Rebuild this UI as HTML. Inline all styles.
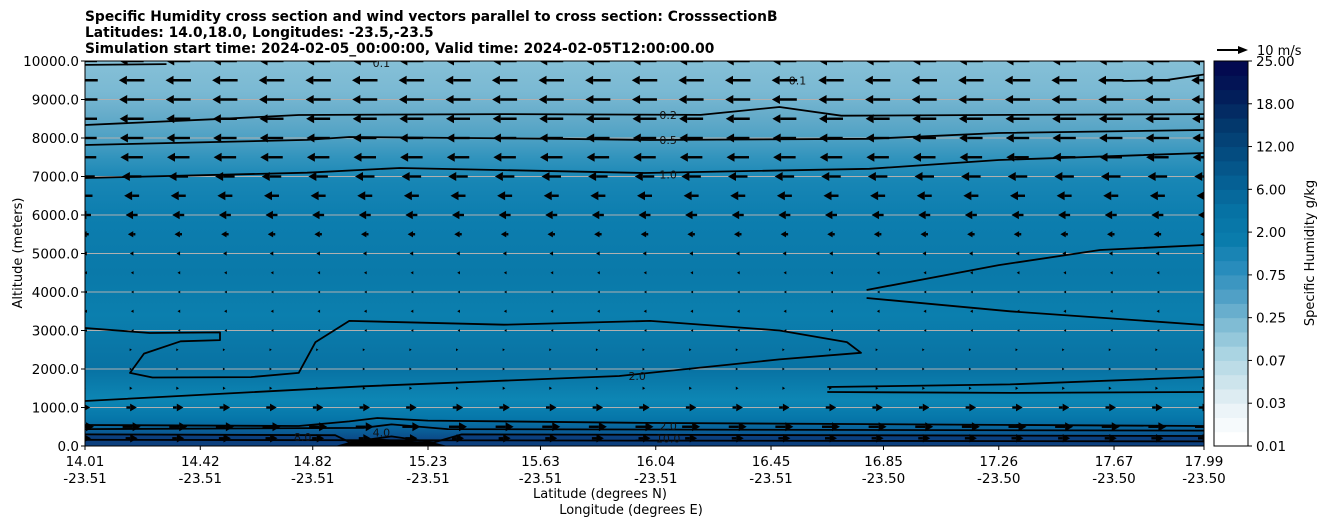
<!DOCTYPE html>
<html><head><meta charset="utf-8"><style>
body{margin:0;background:#fff;}
svg text{font-family:"DejaVu Sans","Liberation Sans",sans-serif;}
</style></head><body>
<svg id="chart" width="1326" height="526" viewBox="0 0 1326 526" xmlns="http://www.w3.org/2000/svg">
<defs>
<linearGradient id="bg" x1="0" y1="61" x2="0" y2="446" gradientUnits="userSpaceOnUse">
<stop offset="0" stop-color="#86c0d7"/>
<stop offset="0.08" stop-color="#7ab9d3"/>
<stop offset="0.14" stop-color="#66acca"/>
<stop offset="0.2" stop-color="#4ea1c4"/>
<stop offset="0.25" stop-color="#3294bd"/>
<stop offset="0.31" stop-color="#1886b5"/>
<stop offset="0.4" stop-color="#0d7eaf"/>
<stop offset="0.55" stop-color="#0a79a9"/>
<stop offset="0.66" stop-color="#0b7fae"/>
<stop offset="0.74" stop-color="#0a77a7"/>
<stop offset="0.8" stop-color="#0872a3"/>
<stop offset="0.88" stop-color="#0d86b4"/>
<stop offset="0.93" stop-color="#0676a9"/>
<stop offset="0.96" stop-color="#0a5e97"/>
<stop offset="0.98" stop-color="#0b4c8a"/>
<stop offset="1" stop-color="#08306b"/>
</linearGradient>
<clipPath id="plotclip"><rect x="85" y="61" width="1119" height="385"/></clipPath>
</defs>
<g font-weight="bold" font-size="13.8" fill="#000">
<text x="85" y="21">Specific Humidity cross section and wind vectors parallel to cross section: CrosssectionB</text>
<text x="85" y="37">Latitudes: 14.0,18.0, Longitudes: -23.5,-23.5</text>
<text x="85" y="53">Simulation start time: 2024-02-05_00:00:00, Valid time: 2024-02-05T12:00:00.00</text>
</g>
<rect x="85" y="61" width="1119" height="385" fill="url(#bg)"/>
<g id="grid"></g>
<g id="contours" clip-path="url(#plotclip)"></g>
<g id="arrows" clip-path="url(#plotclip)"></g>
<rect x="85" y="61" width="1119" height="385" fill="none" stroke="#000" stroke-width="1"/>
<g id="yaxis"></g>
<g id="xaxis"></g>
<text x="22" y="253" font-size="13" text-anchor="middle" transform="rotate(-90 22 253)">Altitude (meters)</text>
<text x="600" y="498" font-size="13" text-anchor="middle">Latitude (degrees N)</text>
<text x="631" y="514" font-size="13" text-anchor="middle">Longitude (degrees E)</text>
<g>
<line x1="1217" y1="50" x2="1240" y2="50" stroke="#000" stroke-width="2"/>
<polygon points="1248,50 1238,46 1238,54" fill="#000"/>
<text x="1257" y="55" font-size="13">10 m/s</text>
</g>
<g id="colorbar"></g>
<text x="1314" y="253" font-size="13" text-anchor="middle" transform="rotate(-90 1314 253)">Specific Humidity g/kg</text>
</svg>
<script>
const NS='http://www.w3.org/2000/svg';
const yTicks=[0,1000,2000,3000,4000,5000,6000,7000,8000,9000,10000];
const latTicks=[14.01,14.42,14.82,15.23,15.63,16.04,16.45,16.85,17.26,17.67,17.99];
const lonTicks=['-23.51','-23.51','-23.51','-23.51','-23.51','-23.51','-23.51','-23.50','-23.50','-23.50','-23.50'];
const arrowAlts=[10000,9500,9000,8500,8000,7500,7000,6500,6000,5500,5000,4500,4000,3500,3000,2500,2000,1500,1000,500,200];
const arrowU=[-8,-8.5,-8.3,-8,-7.8,-7.5,-6.5,-5,-4,-2.5,-1.2,-0.5,-0.3,-0.5,-0.3,0.2,0.2,0.5,3.5,6,4];
const cbTicks=['0.01','0.03','0.07','0.25','0.75','2.00','6.00','12.00','18.00','25.00'];
const contour02=[[14.01,8338],[14.5,8500],[14.77,8597],[15.5,8620],[16.2,8600],[16.48,8805],[16.7,8580],[17.3,8600],[17.99,8620]];
const contour05=[[14.01,7818],[14.8,7950],[14.95,8026],[15.7,7980],[16.02,7948],[16.8,7980],[17.26,8130],[17.99,8208]];
const contour10=[[14.01,6961],[14.8,7100],[15.13,7221],[16.0,7091],[16.8,7200],[17.26,7429],[17.99,7610]];
const contour01=[[14.01,9900],[14.3,9920]];
const contour02b=[[17.7,9480],[17.85,9500],[17.99,9650]];
const contour20=[[14.01,3065],[14.24,2935],[14.49,2950],[14.49,2750],[14.35,2720],[14.22,2400],[14.17,1900],[14.25,1780],[14.6,1790],[14.77,1900],[14.83,2700],[14.95,3250],[15.5,3150],[16.02,3250],[16.48,3000],[16.72,2700],[16.77,2420],[16.48,2250],[15.91,1818],[15.0,1550],[14.01,1169]];
const contour10a=[[16.79,4052],[17.26,4700],[17.62,5091],[17.99,5221]];
const contour10b=[[16.79,3844],[17.3,3500],[17.99,3143]];
const contour10c=[[16.65,1532],[17.3,1600],[17.99,1792]];
const contour10d=[[16.65,1403],[17.3,1380],[17.99,1403]];
const contourLow1=[[14.01,545],[14.77,520],[14.95,640],[15.05,727],[15.23,660],[16.0,600],[17.99,520]];
const contourLow2=[[14.01,440],[15.0,470],[15.1,560],[15.3,440],[17.99,400]];
const contourLow3=[[14.01,300],[14.9,280],[14.95,100],[15.1,250],[15.25,90],[15.35,300],[17.99,260]];
const contourLow4=[[14.01,160],[17.99,120]];
const labels=[[16.02,8597,'0.2'],[16.02,7948,'0.5'],[16.02,7050,'1.0'],[15.91,1818,'2.0'],[16.02,520,'2.0'],[14.72,230,'8.0'],[15.0,350,'4.0'],[16.02,200,'10.0'],[16.48,9500,'0.1'],[15.0,9950,'0.1']];

const X=v=>85+(v-14.01)/(17.99-14.01)*1119;
const Y=a=>446-a/10000*385;
function mk(t,attrs,parent){const e=document.createElementNS(NS,t);for(const k in attrs)e.setAttribute(k,attrs[k]);parent.appendChild(e);return e;}
const grid=document.getElementById('grid'),ya=document.getElementById('yaxis'),xa=document.getElementById('xaxis');
yTicks.forEach(t=>{
  const y=Y(t);
  const g=mk('line',{x1:85,x2:1204,y1:y,y2:y,stroke:'#b0b0b0','stroke-width':1},grid);
  
  
  mk('line',{x1:81,x2:85,y1:y,y2:y,stroke:'#000'},ya);
  const tx=mk('text',{x:79,y:y+5,'font-size':13.5,'text-anchor':'end'},ya);
  tx.textContent=t.toFixed(1);
  
  
});
latTicks.forEach((t,i)=>{
  const x=X(t);
  mk('line',{x1:x,x2:x,y1:446,y2:450,stroke:'#000'},xa);
  const tx=mk('text',{x:x,y:466,'font-size':13.5,'text-anchor':'middle'},xa);
  tx.textContent=t.toFixed(2);
  
  
  const t2=mk('text',{x:x,y:483,'font-size':13.5,'text-anchor':'middle'},xa);
  t2.textContent=lonTicks[i];
  
  
});
const cg=document.getElementById('contours');
const fillPts=contourLow3.map(p=>X(p[0])+','+Y(p[1])).join(' ')+' 1204,446 85,446';
const f=mk('polygon',{points:fillPts,fill:'#0b3f7e'},cg);


const f2pts=[[14.95,100],[15.05,190],[15.25,90],[15.3,0],[14.9,0]].map(p=>X(p[0])+','+Y(p[1])).join(' ');
const f2=mk('polygon',{points:f2pts,fill:'#000'},cg);


function path(pts){return pts.map((p,i)=>(i?'L':'M')+X(p[0]).toFixed(1)+' '+Y(p[1]).toFixed(1)).join(' ');}
[contour01,contour02,contour02b,contour05,contour10,contour20,contour10a,contour10b,contour10c,contour10d,contourLow1,contourLow2,contourLow3,contourLow4].forEach(c=>{
  const p=mk('path',{d:path(c),fill:'none',stroke:'#000','stroke-width':1.8,'stroke-linejoin':'round'},cg);
  
  
});
labels.forEach(l=>{
  const x=X(l[0]),y=Y(l[1]);
  const t=mk('text',{x:x+18,y:y+4,'font-size':11,'text-anchor':'middle',fill:'#111'},cg);
  t.textContent=l[2];
  
  
});
const ag=document.getElementById('arrows');
arrowAlts.forEach((a,r)=>{
  const u=arrowU[r];const y=Y(a);
  for(let k=0;k<25;k++){
    const cx=85+k*1119/24;
    const len=u*3;const half=len/2;
    const x0=cx-half,x1=cx+half;const dir=Math.sign(len)||1;
    const hl=Math.min(8,Math.abs(len)*0.45+2),hw=Math.min(4.5,Math.abs(len)*0.25+1.2);
    const g=mk('g',{},ag);
    
    
    if(Math.abs(len)>hl) mk('line',{x1:x0,y1:y,x2:x1-dir*hl,y2:y,stroke:'#000','stroke-width':2.4},g);
    mk('polygon',{points:`${x1},${y} ${x1-dir*hl},${y-hw} ${x1-dir*hl},${y+hw}`,fill:'#000'},g);
  }
});
const cb=document.getElementById('colorbar');
const cstops=[[255,255,255],[236,244,248],[205,228,236],[170,212,226],[128,188,212],[80,160,198],[40,140,188],[10,124,172],[6,114,164],[5,96,148],[4,76,128],[3,56,108],[2,30,90],[3,10,80]];
function col(t){const s=t*(cstops.length-1);const i=Math.min(Math.floor(s),cstops.length-2);const f=s-i;const a=cstops[i],b=cstops[i+1];return `rgb(${a.map((v,j)=>Math.round(v+(b[j]-v)*f)).join(',')})`;}
const nb=27,bh=385/nb;
for(let i=0;i<nb;i++){
  const r=mk('rect',{x:1214,y:446-(i+1)*bh,width:34,height:bh+0.5,fill:col(i/(nb-1))},cb);
  
  
}
mk('rect',{x:1214,y:61,width:34,height:385,fill:'none',stroke:'#000'},cb);
cbTicks.forEach((t,i)=>{
  const y=446-i*385/9;
  mk('line',{x1:1248,x2:1252,y1:y,y2:y,stroke:'#000'},cb);
  const tx=mk('text',{x:1256,y:y+5,'font-size':13.5},cb);
  tx.textContent=t;
  
  
});
</script>
</body></html>
